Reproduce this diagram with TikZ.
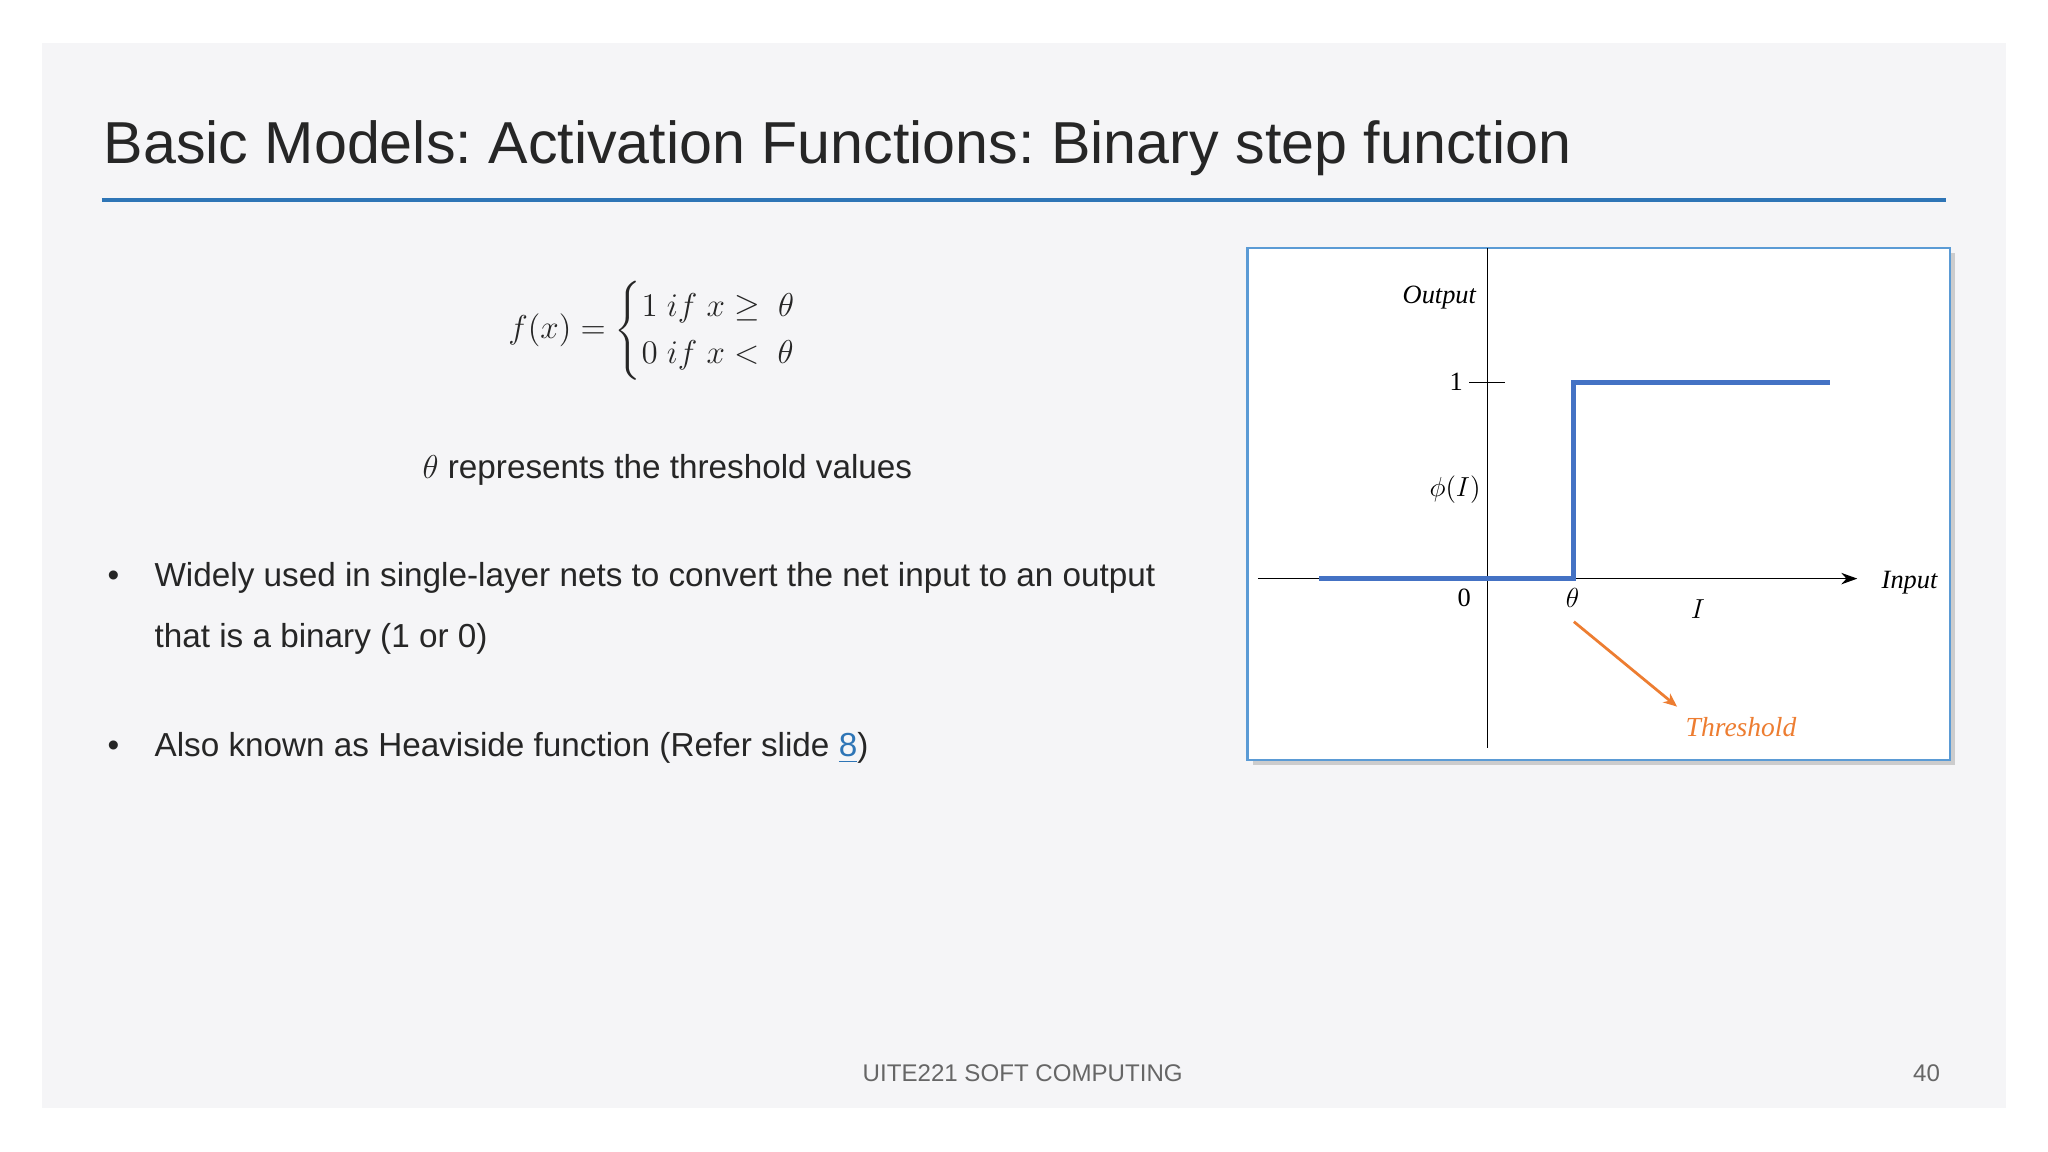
\documentclass[tikz,border=0pt]{standalone}
\usepackage{fontspec}
\usepackage{amsmath}
\setmainfont{Liberation Sans}
\newfontfamily\tnr{Liberation Serif}
\usetikzlibrary{arrows.meta,shadows}
\frenchspacing
\definecolor{slidebg}{HTML}{F5F5F7}
\definecolor{titleblue}{HTML}{2E75B6}
\definecolor{stepblue}{HTML}{4472C4}
\definecolor{boxblue}{HTML}{5B9BD5}
\definecolor{orangeT}{HTML}{ED7D31}
\definecolor{txt}{HTML}{262626}
\tikzset{
  body/.style={anchor=base west,inner sep=0pt,text=txt,font=\fontsize{14.5}{17}\selectfont},
  glab/.style={font=\tnr\fontsize{11.5}{13}\selectfont},
}
\begin{document}
\begin{tikzpicture}[x=0.02cm,y=-0.02cm]
\useasboundingbox (0,0) rectangle (1568,882);
\fill[white] (0,0) rectangle (1568,882);
\fill[slidebg] (32,33) rectangle (1536,848);
\node[anchor=base west,inner sep=0pt,text=txt,font=\fontsize{25.8}{30}\selectfont] (title) at (79,125) {Basic Models: Activation Functions: Binary step function};
\draw[titleblue,line width=2pt] (78,153) -- (1490,153);
\node[text=txt,font=\fontsize{14}{17}\selectfont] (eq) at (512,253) {$f(x)=\begin{cases}1\;if\;x\geq\;\theta\\0\;if\;x<\;\theta\end{cases}$};
\node[body,anchor=base] (thr) at (511,366) {$\theta$ represents the threshold values};
\node[body] (b1) at (82,449) {\textbullet};
\node[body] (l1) at (118,449) {Widely used in single-layer nets to convert the net input to an output};
\node[body] (l2) at (118,496) {that is a binary (1 or 0)};
\node[body] (b2) at (82,579) {\textbullet};
\node[body] (l3) at (118,579) {Also known as Heaviside function (Refer slide \textcolor{titleblue}{\underline{8}})};
\node[anchor=base,text=gray!80!black,font=\fontsize{10.5}{12}\selectfont] (foot) at (783,828) {UITE221 SOFT COMPUTING};
\node[anchor=base,text=gray!80!black,font=\fontsize{10.5}{12}\selectfont] (pg) at (1475,828) {40};
% graph box
\draw[boxblue,fill=white,line width=1pt,drop shadow={opacity=0.35,shadow xshift=0.08cm,shadow yshift=-0.08cm}] (955,190) rectangle (1493,582);
\coordinate (vt) at (1139,190); \coordinate (vb) at (1139,573);
\coordinate (hl) at (963,443); \coordinate (hr) at (1422,443);
\draw[black,line width=0.6pt] (vt) -- (vb);
\draw[black,line width=0.6pt,-{Stealth[length=7pt,width=5pt]}] (hl) -- (hr);
\coordinate (t1) at (1125,293); \coordinate (t2) at (1152,293);
\draw[black,line width=0.6pt] (t1) -- (t2);
\coordinate (s0) at (1010,443); \coordinate (s1) at (1205,443); \coordinate (s2) at (1205,293); \coordinate (s3) at (1401,293);
\draw[stepblue,line width=2.2pt] (s0) -- (s1) -- (s2) -- (s3);
\node[glab,font=\tnr\itshape\fontsize{11.5}{13}\selectfont] (out) at (1102,228) {Output};
\node[glab] (one) at (1115,292) {1};
\node[glab] (phi) at (1114,375) {$\phi(I)$};
\node[glab] (zero) at (1121,458) {0};
\node[glab] (th) at (1204,458) {$\theta$};
\node[glab] (I) at (1300,466) {$I$};
\node[glab,font=\tnr\itshape\fontsize{11.5}{13}\selectfont] (inp) at (1462,446) {Input};
\node[glab,font=\tnr\itshape\fontsize{12}{14}\selectfont,text=orangeT] (thrl) at (1333,557) {Threshold};
\coordinate (a0) at (1205,476); \coordinate (a1) at (1284,541);
\draw[orangeT,line width=1.2pt,-{Stealth[length=6pt,width=5pt]}] (a0) -- (a1);
\end{tikzpicture}
\end{document}
